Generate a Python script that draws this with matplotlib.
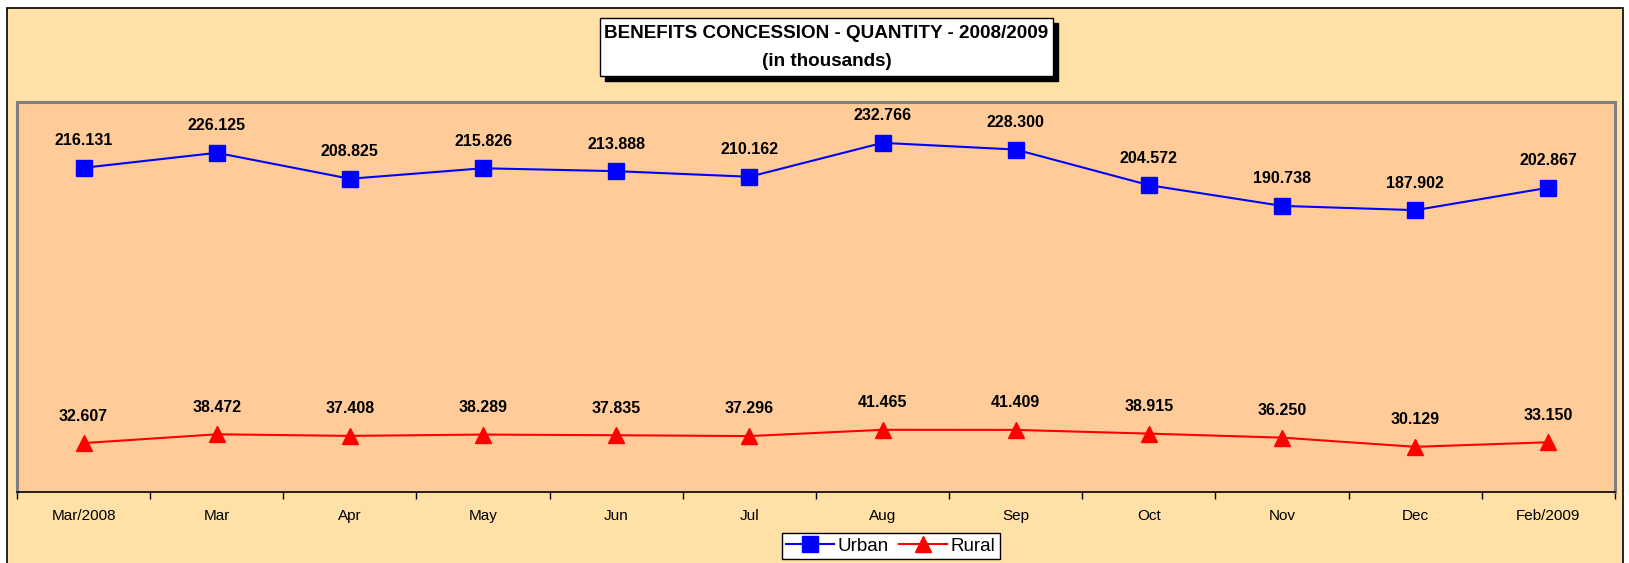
import matplotlib.pyplot as plt
from matplotlib.patches import Rectangle

# =========================
# data
# =========================
months = ["Mar/2008", "Mar", "Apr", "May", "Jun", "Jul", "Aug", "Sep",
          "Oct", "Nov", "Dec", "Feb/2009"]
urban = [216.131, 226.125, 208.825, 215.826, 213.888, 210.162, 232.766,
         228.300, 204.572, 190.738, 187.902, 202.867]
rural = [32.607, 38.472, 37.408, 38.289, 37.835, 37.296, 41.465, 41.409,
         38.915, 36.250, 30.129, 33.150]

title_line1 = "BENEFITS CONCESSION - QUANTITY - 2008/2009"
title_line2 = "(in thousands)"

plt.rcParams["font.family"] = ["Liberation Sans", "DejaVu Sans"]

W, H = 1629, 563
OUTER_BG = "#FFE0A6"
PLOT_BG = "#FFCC99"

fig = plt.figure(figsize=(W / 100, H / 100), dpi=100)
fig.patch.set_facecolor("white")


def px(x, y):
    # pixel coords (from top-left) -> figure fraction
    return x / W, 1 - y / H


# outer chart area with black border (bottom runs off the image)
fig.patches.append(Rectangle(px(7, 575), 1616 / W, 567 / H,
                             transform=fig.transFigure, facecolor=OUTER_BG,
                             edgecolor="black", linewidth=1.2, zorder=-5))

# plot area
left, top, right, bottom = 17, 102, 1615, 492
ax = fig.add_axes([left / W, 1 - bottom / H, (right - left) / W, (bottom - top) / H])
ax.set_facecolor(PLOT_BG)

x = list(range(len(months)))
ax.plot(x, urban, color="blue", lw=1.5, marker="s", ms=11.5,
        markeredgecolor="blue", label="Urban", zorder=3)
ax.plot(x, rural, color="red", lw=1.5, marker="^", ms=11.5,
        markeredgecolor="red", label="Rural", zorder=3)

for xi, v in zip(x, urban):
    ax.annotate(f"{v:.3f}", (xi, v), xytext=(0, 19.5), textcoords="offset points",
                ha="center", va="center", fontsize=11.5, fontweight="bold")
for xi, v in zip(x, rural):
    ax.annotate(f"{v:.3f}", (xi, v), xytext=(0, 19.5), textcoords="offset points",
                ha="center", va="center", fontsize=11.5, fontweight="bold")

ax.set_xlim(-0.5, len(months) - 0.5)
ax.set_ylim(0, 260)
ax.set_yticks([])

# tick marks on category boundaries, labels in the middle
ax.set_xticks([i - 0.5 for i in range(len(months) + 1)])
ax.set_xticklabels([])
ax.tick_params(axis="x", which="major", direction="out", length=5, width=1, color="black")
ax.set_xticks(x, minor=True)
ax.set_xticklabels(months, minor=True, fontsize=11)
ax.tick_params(axis="x", which="minor", length=0, pad=12.5)

for s in ["left", "top", "right"]:
    ax.spines[s].set_color("#808080")
    ax.spines[s].set_linewidth(2.2)
ax.spines["bottom"].set_color("black")
ax.spines["bottom"].set_linewidth(1.2)

# title box with shadow
bx0, by0, bx1, by1 = 600, 18, 1053, 76
fig.patches.append(Rectangle(px(bx0 + 5, by1 + 5), (bx1 - bx0) / W, (by1 - by0) / H,
                             transform=fig.transFigure, facecolor="black",
                             edgecolor="black", zorder=1))
fig.patches.append(Rectangle(px(bx0, by1), (bx1 - bx0) / W, (by1 - by0) / H,
                             transform=fig.transFigure, facecolor="white",
                             edgecolor="black", linewidth=1, zorder=2))
fig.text(*px((bx0 + bx1) / 2, 33), title_line1, ha="center", va="center",
         fontsize=13.6, fontweight="bold", zorder=3)
fig.text(*px((bx0 + bx1) / 2, 61), title_line2, ha="center", va="center",
         fontsize=13.6, fontweight="bold", zorder=3)

# legend
leg = fig.legend(loc="center", bbox_to_anchor=px(891, 546), ncol=2,
                 fontsize=13.5, frameon=True, fancybox=False, handlelength=2.55,
                 handletextpad=0.2, columnspacing=0.55, borderpad=0.25,
                 borderaxespad=0)
leg.get_frame().set_edgecolor("black")
leg.get_frame().set_linewidth(1)
leg.get_frame().set_facecolor("white")
leg.get_frame().set_alpha(1)

fig.savefig("out.png", dpi=100, facecolor=fig.get_facecolor())
